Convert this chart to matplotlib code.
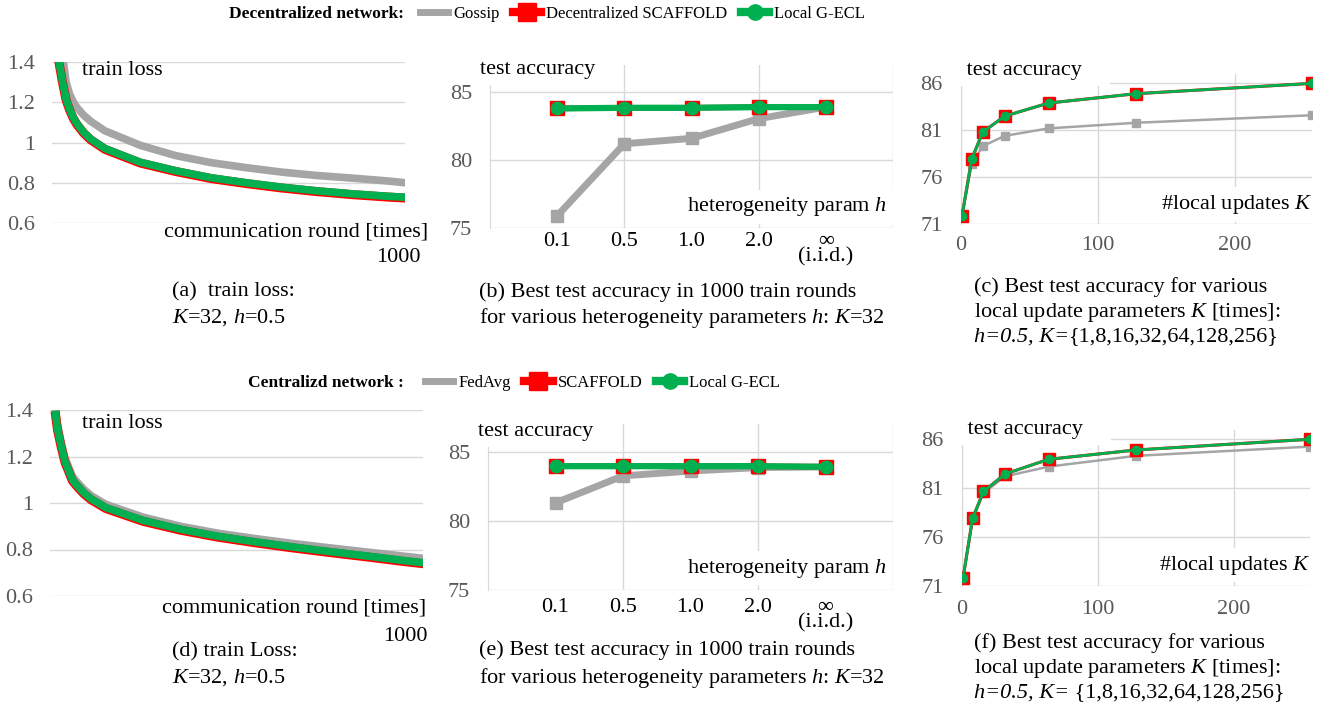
import matplotlib
matplotlib.use("Agg")
import matplotlib.pyplot as plt
from matplotlib.lines import Line2D

plt.rcParams["font.family"] = ["Liberation Serif", "DejaVu Serif"]
plt.rcParams["mathtext.fontset"] = "custom"
plt.rcParams["mathtext.rm"] = "Liberation Serif"
plt.rcParams["mathtext.it"] = "Liberation Serif:italic"

# ---- data ----
rounds = [15, 20, 30, 40, 50, 60, 70, 90, 110, 150, 250, 350, 450, 550, 650, 750, 850, 950, 1000]

dec_gossip_loss = [1.75, 1.60, 1.43, 1.30, 1.24, 1.203, 1.175, 1.135, 1.105, 1.058, 0.986,
                   0.935, 0.90, 0.875, 0.853, 0.836, 0.823, 0.809, 0.80]
dec_scaffold_loss = [1.466, 1.396, 1.296, 1.211, 1.161, 1.121, 1.091, 1.046, 1.013, 0.966,
                     0.898, 0.856, 0.821, 0.796, 0.774, 0.756, 0.741, 0.729, 0.724]
dec_gecl_loss = [1.47, 1.40, 1.30, 1.215, 1.165, 1.125, 1.095, 1.05, 1.017, 0.97, 0.902,
                 0.86, 0.825, 0.80, 0.778, 0.76, 0.745, 0.733, 0.728]

cen_fedavg_loss = [1.40, 1.34, 1.26, 1.195, 1.155, 1.115, 1.095, 1.06, 1.032, 0.994, 0.939,
                   0.90, 0.87, 0.847, 0.826, 0.807, 0.789, 0.771, 0.762]
cen_scaffold_loss = [1.376, 1.316, 1.241, 1.176, 1.136, 1.096, 1.076, 1.041, 1.014, 0.976,
                     0.921, 0.883, 0.853, 0.829, 0.807, 0.787, 0.768, 0.748, 0.739]
cen_gecl_loss = [1.38, 1.32, 1.245, 1.18, 1.14, 1.10, 1.08, 1.045, 1.018, 0.98, 0.925,
                 0.887, 0.857, 0.833, 0.811, 0.791, 0.772, 0.752, 0.743]

h_labels = ["0.1", "0.5", "1.0", "2.0", "\u221e\n(i.i.d.)"]
dec_gossip_h = [75.9, 81.2, 81.6, 83.05, 83.9]
dec_scaffold_h = [83.8, 83.85, 83.85, 83.9, 83.9]
dec_gecl_h = [83.8, 83.85, 83.85, 83.9, 83.9]
cen_fedavg_h = [81.3, 83.25, 83.6, 83.85, 83.9]
cen_scaffold_h = [83.95, 83.95, 83.95, 83.95, 83.9]
cen_gecl_h = [83.95, 83.95, 83.95, 83.95, 83.9]

k_values = [1, 8, 16, 32, 64, 128, 256]
dec_gossip_k = [71.9, 77.4, 79.3, 80.4, 81.2, 81.8, 82.6]
dec_scaffold_k = [71.9, 77.9, 80.8, 82.5, 83.9, 84.9, 86.0]
dec_gecl_k = [71.9, 77.9, 80.8, 82.5, 83.9, 84.9, 86.0]
cen_fedavg_k = [71.8, 77.8, 80.5, 82.2, 83.2, 84.3, 85.25]
cen_scaffold_k = [71.8, 77.9, 80.65, 82.45, 83.95, 84.9, 86.0]
cen_gecl_k = [71.8, 77.9, 80.65, 82.45, 83.95, 84.9, 86.0]

GRAY = "#a5a5a5"
RED = "#ff0000"
GREEN = "#00b050"
GRID = "#d9d9d9"
TICK = "#595959"
FS = 16

W, H = 1336, 716
fig = plt.figure(figsize=(W / 100, H / 100), dpi=100)


def rect(x0, x1, ytop, ybot):
    return [x0 / W, 1 - ybot / H, (x1 - x0) / W, (ybot - ytop) / H]


def base_axes(r):
    ax = fig.add_axes(r)
    for s in ax.spines.values():
        s.set_visible(False)
    ax.tick_params(length=0, labelsize=FS, colors=TICK)
    ax.set_axisbelow(True)
    return ax


def label_box(ax, x, y, s, ha):
    ax.text(x, y, s, transform=ax.transAxes, fontsize=FS, ha=ha, va="center",
            bbox=dict(facecolor="white", edgecolor="none", pad=4), zorder=5)


# ---- loss panels ----
def loss_panel(r, gray, red, green, xlabel_pos, pos_1000, lab_y):
    ax = base_axes(r)
    ax.yaxis.grid(True, color=GRID, lw=1)
    ax.plot(rounds, gray, color=GRAY, lw=5.5, zorder=2)
    ax.plot(rounds, red, color=RED, lw=6.5, zorder=3)
    ax.plot(rounds, green, color=GREEN, lw=5.5, zorder=4)
    ax.set_xlim(0, 1000)
    ax.set_ylim(0.6, 1.4)
    ax.set_yticks([0.6, 0.8, 1.0, 1.2, 1.4])
    ax.set_yticklabels(["0.6", "0.8", "1", "1.2", "1.4"])
    ax.tick_params(axis="y", pad=12)
    ax.set_xticks([])
    ax.text(0.085, lab_y, "train loss", transform=ax.transAxes, fontsize=FS, va="center")
    ax.text(xlabel_pos[0], xlabel_pos[1], "communication round [times]",
            transform=ax.transAxes, fontsize=FS, ha="right", va="center")
    ax.text(pos_1000[0], pos_1000[1], "1000", transform=ax.transAxes, fontsize=FS,
            ha="right", va="center")
    return ax


loss_panel(rect(52, 405, 62, 223), dec_gossip_loss, dec_scaffold_loss, dec_gecl_loss,
           (1.065, -0.056), (1.045, -0.217), 0.95)
loss_panel(rect(50, 423, 410, 596), cen_fedavg_loss, cen_scaffold_loss, cen_gecl_loss,
           (1.008, -0.065), (1.013, -0.22), 0.93)


# ---- heterogeneity panels ----
def h_panel(r, gray, red, green, ypos_test, tick_pad):
    ax = base_axes(r)
    xs = list(range(1, len(h_labels) + 1))
    ax.yaxis.grid(True, color=GRID, lw=1)
    for gx in [2, 4, 6]:
        ax.axvline(gx, color=GRID, lw=1, zorder=0)
    ax.spines["left"].set_visible(True)
    ax.spines["left"].set_color(GRID)
    ax.plot(xs, gray, color=GRAY, lw=5, marker="s", ms=9, zorder=2)
    ax.plot(xs, red, color=RED, lw=4, marker="s", ms=10, zorder=3)
    ax.plot(xs, green, color=GREEN, lw=4.5, marker="o", ms=9, zorder=4)
    ax.set_xlim(0, 6)
    ax.set_ylim(75, 87)
    ax.set_yticks([75, 80, 85])
    ax.set_xticks(xs)
    ax.set_xticklabels(h_labels)
    ax.tick_params(axis="x", colors="black", pad=tick_pad)
    for t in ax.get_xticklabels():
        t.set_linespacing(0.7)
    ax.tick_params(axis="y", pad=13)
    label_box(ax, -0.025, ypos_test, "test accuracy", "left")
    label_box(ax, 0.985, 0.13, "heterogeneity param $h$", "right")
    return ax


h_panel(rect(490, 893, 65, 228), dec_gossip_h, dec_scaffold_h, dec_gecl_h, 0.97, 3)
h_panel(rect(488, 893, 424, 590), cen_fedavg_h, cen_scaffold_h, cen_gecl_h, 0.954, 6)


# ---- local update panels ----
def k_panel(r, gray, red, green, ypos_test, tick_pad):
    ax = base_axes(r)
    ax.grid(True, color=GRID, lw=1)
    ax.spines["left"].set_visible(True)
    ax.spines["left"].set_color(GRID)
    ax.plot(k_values, gray, color=GRAY, lw=1.8, marker="s", ms=6, zorder=2)
    ax.plot(k_values, red, color=RED, lw=2.2, marker="s", ms=8, zorder=3)
    ax.plot(k_values, green, color=GREEN, lw=2, marker="o", ms=6, zorder=4)
    ax.set_xlim(0, 256)
    ax.set_ylim(71, 87)
    ax.set_yticks([71, 76, 81, 86])
    ax.set_xticks([0, 100, 200])
    ax.tick_params(axis="y", pad=13)
    ax.tick_params(axis="x", pad=tick_pad)
    label_box(ax, 0.0, ypos_test, " test accuracy    ", "left")
    label_box(ax, 1.0, 0.13, "#local updates $K$", "right")
    return ax


axc = k_panel(rect(960.7, 1312, 74, 224), dec_gossip_k, dec_scaffold_k, dec_gecl_k, 1.02, 9)
axf = k_panel(rect(961.7, 1310, 429.5, 585.7), cen_fedavg_k, cen_scaffold_k, cen_gecl_k, 1.0, 10)


# ---- captions ----
def caption(x, ys, lines):
    for y, s in zip(ys, lines):
        fig.text(x / W, 1 - y / H, s, fontsize=FS, va="center", ha="left")


def set_caption(ax, x, y, head, rest):
    t = fig.text(x / W, 1 - y / H, head, fontsize=FS, style="italic", va="center", ha="left")
    ax.annotate(rest, xy=(1, 0.5), xycoords=t, fontsize=FS, va="center", ha="left",
                annotation_clip=False)


caption(172, [292, 318], ["(a)  train loss:", "$K$=32, $h$=0.5"])
caption(172, [652, 678], ["(d) train Loss:", "$K$=32, $h$=0.5"])
caption(479, [292, 318], ["(b) Best test accuracy in 1000 train rounds",
                          "for various heterogeneity parameters $h$: $K$=32"])
caption(479, [650, 678], ["(e) Best test accuracy in 1000 train rounds",
                          "for various heterogeneity parameters $h$: $K$=32"])
caption(974, [287, 312], ["(c) Best test accuracy for various",
                          "local update parameters $K$ [times]:"])
set_caption(axc, 974, 337, "h=0.5, K=", "{1,8,16,32,64,128,256}")
caption(974, [643, 668], ["(f) Best test accuracy for various",
                          "local update parameters $K$ [times]:"])
set_caption(axf, 974, 693, "h=0.5, K=", " {1,8,16,32,64,128,256}")


# ---- legends ----
def legend_row(x_head, head, x_leg, y, names):
    fig.text(x_head / W, 1 - y / H, head, fontsize=12.5, weight="bold", va="center", ha="right")
    handles = [
        Line2D([], [], color=GRAY, lw=5),
        Line2D([], [], color=RED, lw=6, marker="s", ms=13),
        Line2D([], [], color=GREEN, lw=6, marker="o", ms=11),
    ]
    fig.legend(handles, names, loc="center left", bbox_to_anchor=(x_leg / W, 1 - y / H),
               ncol=3, frameon=False, fontsize=12, handlelength=1.7, handletextpad=0.3,
               columnspacing=0.8, borderaxespad=0, borderpad=0)


legend_row(404, "Decentralized network:", 420, 14,
           ["Gossip", "Decentralized SCAFFOLD", "Local G-ECL"])
legend_row(404, "Centralizd network :", 425, 383,
           ["FedAvg", "SCAFFOLD", "Local G-ECL"])

plt.savefig("out.png", dpi=100)
